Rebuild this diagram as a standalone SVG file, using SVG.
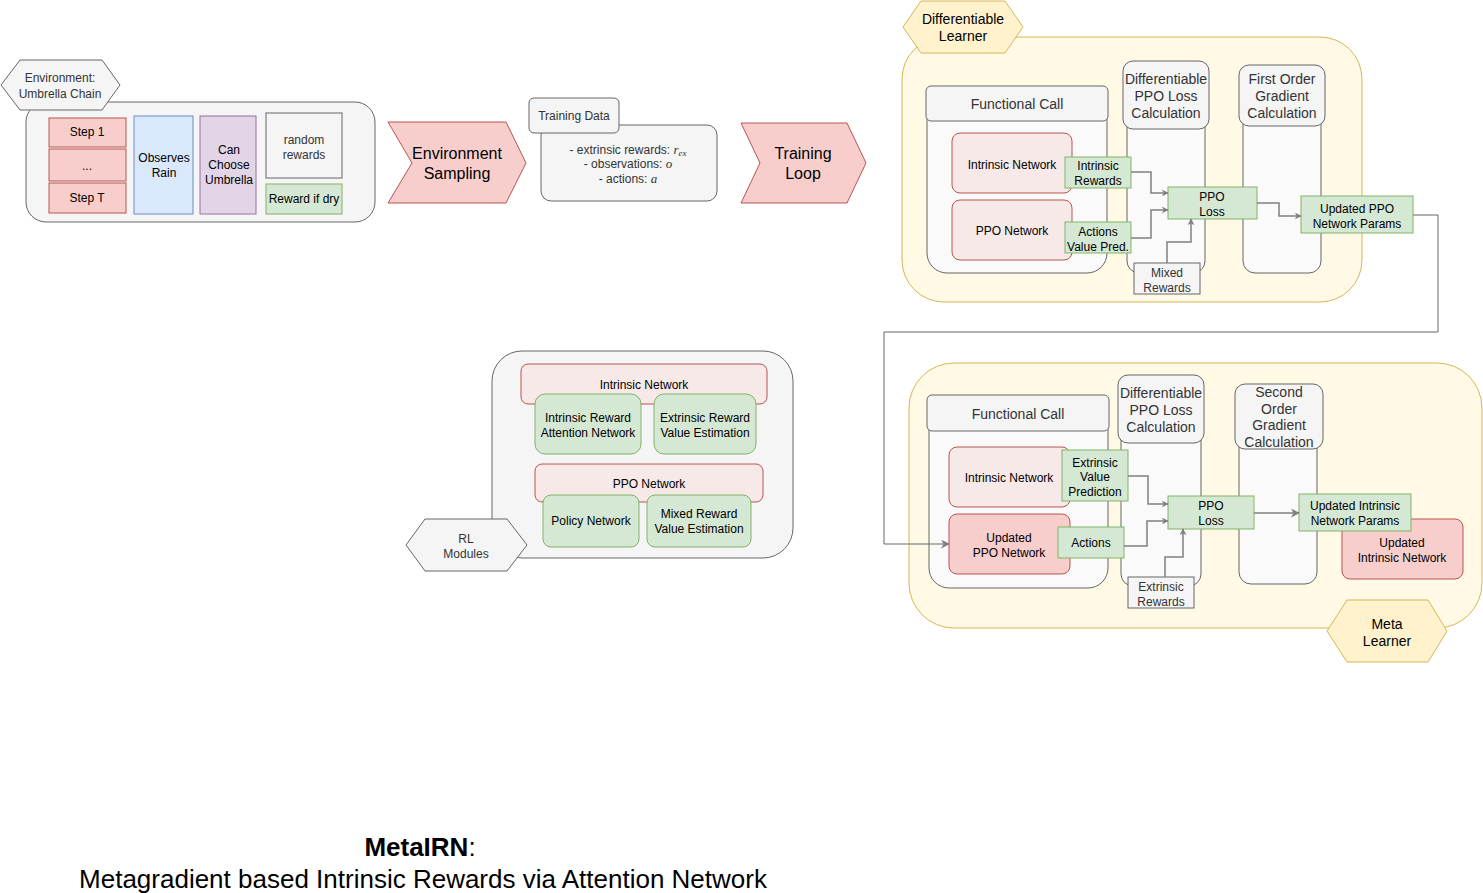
<svg xmlns="http://www.w3.org/2000/svg" width="1483" height="893" viewBox="0 0 1483 893">
<defs>
<style>
text{font-family:"Liberation Sans",Arial,sans-serif;font-size:12px;fill:#000;text-anchor:middle}
.t14{font-size:14px}
.t16{font-size:16px}
.g{fill:#333}
.red{fill:#f8cecc;stroke:#b85450}
.pink{fill:#f7e9e8;stroke:#b85450}
.green{fill:#d5e8d4;stroke:#82b366}
.blue{fill:#dae8fc;stroke:#6c8ebf}
.purple{fill:#e1d5e7;stroke:#9673a6}
.grey{fill:#f5f5f5;stroke:#666}
.light{fill:#fafafa;stroke:#666}
.yellow{fill:#fff2cc;stroke:#d6b656}
.cont{fill:#fff9e6;stroke:#d6b656}
.conn{fill:none;stroke:#808080;stroke-width:1.5}
.fb{fill:none;stroke:#666;stroke-width:1}
</style>
<marker id="arr" viewBox="0 0 10 10" refX="9" refY="5" markerWidth="7" markerHeight="7" orient="auto" markerUnits="userSpaceOnUse">
<path d="M0,0 L10,5 L0,10 L3,5 z" fill="#808080"/>
</marker>
<marker id="arr2" viewBox="0 0 10 10" refX="9" refY="5" markerWidth="9" markerHeight="9" orient="auto" markerUnits="userSpaceOnUse">
<path d="M0,0 L10,5 L0,10 L3,5 z" fill="#808080"/>
</marker>
</defs>

<!-- Environment -->
<g id="environment">
<rect x="26" y="102" width="349" height="120" rx="20" class="grey"/>
<polygon points="1,85 20,60 102,60 120,85 102,110 20,110" class="grey"/>
<text x="60" y="82" class="g">Environment:</text>
<text x="60" y="98" class="g">Umbrella Chain</text>
</g>
<g id="step1"><rect x="49" y="118" width="77" height="29" class="red"/><text x="87" y="136">Step 1</text></g>
<g id="stepdots"><rect x="49" y="149" width="77" height="32" class="red"/><text x="87" y="170">...</text></g>
<g id="stepT"><rect x="49" y="183" width="77" height="30" class="red"/><text x="87" y="202">Step T</text></g>
<g id="observes"><rect x="134" y="116" width="59" height="98" class="blue"/><text x="164" y="162">Observes</text><text x="164" y="177">Rain</text></g>
<g id="choose"><rect x="200" y="116" width="56" height="98" class="purple"/><text x="229" y="154">Can</text><text x="229" y="169">Choose</text><text x="229" y="184">Umbrella</text></g>
<g id="random"><rect x="266" y="113" width="76" height="65" class="grey"/><text x="304" y="144" class="g">random</text><text x="304" y="159" class="g">rewards</text></g>
<g id="dry"><rect x="266" y="184" width="76" height="30" class="green"/><text x="304" y="203">Reward if dry</text></g>

<!-- Environment Sampling -->
<g id="envsampling">
<polygon points="388,122 506,122 526,163 506,203 388,203 412,163" class="red"/>
<text x="457" y="159" class="t16">Environment</text>
<text x="457" y="179" class="t16">Sampling</text>
</g>

<!-- Training Data -->
<g id="trainingdata">
<rect x="541" y="125" width="176" height="76" rx="10" class="grey"/>
<rect x="529" y="98" width="90" height="35" rx="5" class="grey"/>
<text x="574" y="120" class="g">Training Data</text>
<text x="628" y="154" class="g">- extrinsic rewards: <tspan font-family="Liberation Serif" font-style="italic" font-size="13">r</tspan><tspan font-family="Liberation Serif" font-style="italic" font-size="9" dy="2">ex</tspan></text>
<text x="628" y="168" class="g">- observations: <tspan font-family="Liberation Serif" font-style="italic" font-size="13">o</tspan></text>
<text x="628" y="183" class="g">- actions: <tspan font-family="Liberation Serif" font-style="italic" font-size="13">a</tspan></text>
</g>

<!-- Training Loop -->
<g id="trainingloop">
<polygon points="741,123 847,123 866,163 847,203 741,203 760,163" class="red"/>
<text x="803" y="159" class="t16">Training</text>
<text x="803" y="179" class="t16">Loop</text>
</g>

<!-- Differentiable Learner -->
<g id="difflearner">
<rect x="902" y="37" width="460" height="265" rx="42" class="cont"/>
<polygon points="903,27 921,1 1005,1 1023,27 1005,53 921,53" class="yellow"/>
<text x="963" y="24" class="t14">Differentiable</text>
<text x="963" y="41" class="t14">Learner</text>
</g>
<g id="fc1">
<rect x="927" y="100" width="180" height="173" rx="20" class="light"/>
<rect x="926" y="86" width="182" height="35" rx="5" class="grey"/>
<text x="1017" y="109" class="t14 g">Functional Call</text>
</g>
<g id="dppo1">
<rect x="1127" y="100" width="78" height="173" rx="12" class="light"/>
<rect x="1123" y="61" width="86" height="68" rx="10" class="grey"/>
<text x="1166" y="84" class="t14 g">Differentiable</text>
<text x="1166" y="101" class="t14 g">PPO Loss</text>
<text x="1166" y="118" class="t14 g">Calculation</text>
</g>
<g id="fo1">
<rect x="1243" y="100" width="78" height="173" rx="12" class="light"/>
<rect x="1239" y="65" width="86" height="61" rx="10" class="grey"/>
<text x="1282" y="84" class="t14 g">First Order</text>
<text x="1282" y="101" class="t14 g">Gradient</text>
<text x="1282" y="118" class="t14 g">Calculation</text>
</g>
<g id="in1"><rect x="952" y="133" width="120" height="60" rx="8" class="pink"/><text x="1012" y="169">Intrinsic Network</text></g>
<g id="ppo1"><rect x="952" y="200" width="120" height="60" rx="8" class="pink"/><text x="1012" y="235">PPO Network</text></g>
<g id="ir1"><rect x="1065" y="157" width="66" height="31" class="green"/><text x="1098" y="170">Intrinsic</text><text x="1098" y="185">Rewards</text></g>
<g id="av1"><rect x="1065" y="222" width="66" height="31" class="green"/><text x="1098" y="236">Actions</text><text x="1098" y="251">Value Pred.</text></g>
<g id="loss1"><rect x="1168" y="187" width="89" height="32" class="green"/><text x="1212" y="201">PPO</text><text x="1212" y="216">Loss</text></g>
<g id="upd1"><rect x="1301" y="196" width="112" height="37" class="green"/><text x="1357" y="213">Updated PPO</text><text x="1357" y="228">Network Params</text></g>
<g id="mixed1"><rect x="1134" y="263" width="66" height="31" class="grey"/><text x="1167" y="277" class="g">Mixed</text><text x="1167" y="292" class="g">Rewards</text></g>

<!-- Meta Learner -->
<g id="metalearner">
<rect x="909" y="363" width="573" height="265" rx="45" class="cont"/>
</g>
<g id="fc2">
<rect x="929" y="410" width="179" height="178" rx="20" class="light"/>
<rect x="927" y="395" width="182" height="36" rx="5" class="grey"/>
<text x="1018" y="419" class="t14 g">Functional Call</text>
</g>
<g id="dppo2">
<rect x="1121" y="410" width="80" height="176" rx="12" class="light"/>
<rect x="1118" y="375" width="86" height="68" rx="10" class="grey"/>
<text x="1161" y="398" class="t14 g">Differentiable</text>
<text x="1161" y="415" class="t14 g">PPO Loss</text>
<text x="1161" y="432" class="t14 g">Calculation</text>
</g>
<g id="so2">
<rect x="1239" y="420" width="78" height="164" rx="12" class="light"/>
<rect x="1235" y="384" width="88" height="65" rx="10" class="grey"/>
<text x="1279" y="397" class="t14 g">Second</text>
<text x="1279" y="414" class="t14 g">Order</text>
<text x="1279" y="430" class="t14 g">Gradient</text>
<text x="1279" y="447" class="t14 g">Calculation</text>
</g>
<g id="in2"><rect x="949" y="447" width="121" height="60" rx="8" class="pink"/><text x="1009" y="482">Intrinsic Network</text></g>
<g id="ppo2"><rect x="949" y="514" width="121" height="60" rx="8" class="red"/><text x="1009" y="542">Updated</text><text x="1009" y="557">PPO Network</text></g>
<g id="evp2"><rect x="1062" y="450" width="66" height="51" class="green"/><text x="1095" y="467">Extrinsic</text><text x="1095" y="481">Value</text><text x="1095" y="496">Prediction</text></g>
<g id="act2"><rect x="1058" y="527" width="66" height="31" class="green"/><text x="1091" y="547">Actions</text></g>
<g id="loss2"><rect x="1168" y="496" width="86" height="33" class="green"/><text x="1211" y="510">PPO</text><text x="1211" y="525">Loss</text></g>
<g id="exr2"><rect x="1128" y="577" width="66" height="31" class="grey"/><text x="1161" y="591" class="g">Extrinsic</text><text x="1161" y="606" class="g">Rewards</text></g>
<g id="uin2"><rect x="1342" y="519" width="121" height="60" rx="8" class="red"/><text x="1402" y="547">Updated</text><text x="1402" y="562">Intrinsic Network</text></g>
<g id="upd2"><rect x="1299" y="494" width="112" height="37" class="green"/><text x="1355" y="510">Updated Intrinsic</text><text x="1355" y="525">Network Params</text></g>
<g id="metahex">
<polygon points="1327,631 1347,600 1428,600 1447,631 1428,662 1347,662" class="yellow"/>
<text x="1387" y="629" class="t14">Meta</text>
<text x="1387" y="646" class="t14">Learner</text>
</g>

<!-- RL Modules -->
<g id="rlmodules">
<rect x="492" y="351" width="301" height="207" rx="30" class="grey"/>
<polygon points="406,545 425,519 507,519 527,545 507,571 425,571" class="grey"/>
<text x="466" y="543" class="g">RL</text>
<text x="466" y="558" class="g">Modules</text>
</g>
<g id="rl-intrinsic"><rect x="521" y="364" width="246" height="40" rx="7" class="pink"/><text x="644" y="389">Intrinsic Network</text></g>
<g id="rl-iran"><rect x="535" y="394" width="106" height="60" rx="10" class="green"/><text x="588" y="422">Intrinsic Reward</text><text x="588" y="437">Attention Network</text></g>
<g id="rl-erve"><rect x="654" y="394" width="102" height="60" rx="10" class="green"/><text x="705" y="422">Extrinsic Reward</text><text x="705" y="437">Value Estimation</text></g>
<g id="rl-ppo"><rect x="535" y="464" width="228" height="38" rx="7" class="pink"/><text x="649" y="488">PPO Network</text></g>
<g id="rl-policy"><rect x="543" y="495" width="96" height="52" rx="8" class="green"/><text x="591" y="525">Policy Network</text></g>
<g id="rl-mrve"><rect x="647" y="495" width="104" height="52" rx="8" class="green"/><text x="699" y="518">Mixed Reward</text><text x="699" y="533">Value Estimation</text></g>

<!-- Connectors -->
<g id="connectors">
<path d="M1131,172 H1151 V193 H1168" class="conn" marker-end="url(#arr)"/>
<path d="M1131,238 H1151 V210 H1168" class="conn" marker-end="url(#arr)"/>
<path d="M1167,263 V242 H1191 V219" class="conn" marker-end="url(#arr)"/>
<path d="M1257,203 H1279 V216 H1301" class="conn" marker-end="url(#arr)"/>
<path d="M1413,215 H1438 V332 H884 V544 H949" class="fb" marker-end="url(#arr2)"/>
<path d="M1128,476 H1148 V504 H1168" class="conn" marker-end="url(#arr)"/>
<path d="M1124,546 H1147 V521 H1168" class="conn" marker-end="url(#arr)"/>
<path d="M1165,577 V557 H1183 V529" class="conn" marker-end="url(#arr)"/>
<path d="M1254,513 H1299" class="conn" marker-end="url(#arr2)"/>
</g>

<!-- Title -->
<g id="title">
<text x="420" y="856" font-size="26" style="font-size:26px"><tspan font-weight="bold">MetaIRN</tspan>:</text>
<text x="423" y="888" style="font-size:26px">Metagradient based Intrinsic Rewards via Attention Network</text>
</g>
</svg>
